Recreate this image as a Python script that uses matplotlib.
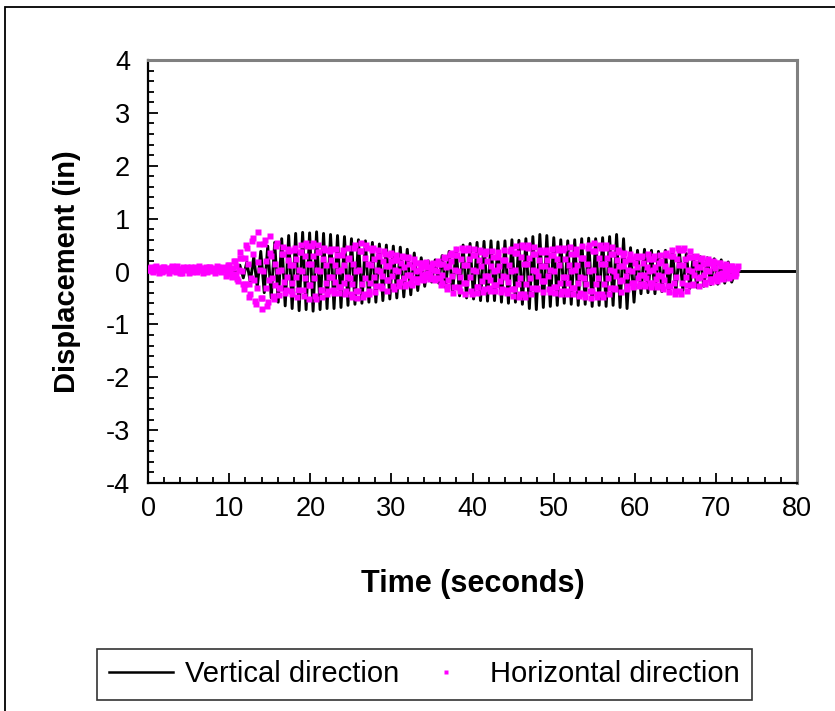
import numpy as np
import matplotlib
matplotlib.use("Agg")
import matplotlib.pyplot as plt
from matplotlib.lines import Line2D
from matplotlib.patches import Rectangle
from matplotlib.ticker import MultipleLocator

plt.rcParams['font.family'] = ['Liberation Sans', 'DejaVu Sans']
plt.rcParams['axes.unicode_minus'] = False

# ---- Vertical direction: successive positive / negative extremes (in) ----
vert_start = 9.6          # s, first excursion
vert_half_period = 0.43   # s between a peak and the following trough
vert_peaks = [0.04, 0.08, 0.12, 0.18, 0.28, 0.38, 0.48, 0.55, 0.62, 0.68,
              0.72, 0.74, 0.73, 0.75, 0.72, 0.70, 0.68, 0.66, 0.62, 0.60,
              0.58, 0.55, 0.52, 0.50, 0.48, 0.46, 0.42, 0.35, 0.26, 0.20,
              0.22, 0.30, 0.38, 0.44, 0.50, 0.53, 0.55, 0.57, 0.58, 0.56,
              0.58, 0.60, 0.59, 0.62, 0.66, 0.70, 0.68, 0.64, 0.60, 0.58,
              0.60, 0.62, 0.63, 0.62, 0.64, 0.66, 0.70, 0.62, 0.45, 0.40,
              0.42, 0.40, 0.38, 0.40, 0.42, 0.38, 0.34, 0.30, 0.28, 0.26,
              0.24, 0.22, 0.18]
vert_troughs = [-0.04, -0.08, -0.12, -0.20, -0.30, -0.40, -0.50, -0.58, -0.65, -0.70,
                -0.74, -0.72, -0.75, -0.72, -0.70, -0.70, -0.68, -0.64, -0.62, -0.60,
                -0.58, -0.58, -0.55, -0.52, -0.50, -0.48, -0.44, -0.36, -0.28, -0.20,
                -0.22, -0.30, -0.40, -0.46, -0.50, -0.52, -0.55, -0.56, -0.55, -0.58,
                -0.60, -0.58, -0.62, -0.70, -0.72, -0.68, -0.66, -0.64, -0.60, -0.62,
                -0.64, -0.62, -0.66, -0.64, -0.66, -0.64, -0.68, -0.70, -0.58, -0.42,
                -0.40, -0.42, -0.38, -0.40, -0.38, -0.36, -0.32, -0.30, -0.28, -0.25,
                -0.24, -0.22, -0.20]
vert_rest_before = [0.0, 9.2]    # s, at rest before shaking
vert_rest_after = [72.4, 80.0]   # s, at rest after shaking

# ---- Horizontal direction (in): readings every 0.1 s, stored as the
#      even-numbered samples (t = 0.0, 0.2, ...) and odd-numbered samples
#      (t = 0.1, 0.3, ...) ----
horiz_step = 0.1
horiz_even = [
    0.05, 0.02, 0.08, 0.00, 0.06, 0.10, 0.03, -0.02, 0.07, 0.01, 0.09, 0.04,
    0.02, -0.03, 0.06, 0.08, 0.04, 0.00, 0.10, 0.05, 0.03, -0.02, 0.07, 0.06,
    0.09, 0.02, 0.05, -0.01, 0.04, 0.08, 0.00, 0.06, 0.07, 0.03, -0.02, 0.05,
    0.02, 0.06, 0.09, 0.01, 0.05, -0.03, 0.04, 0.08, 0.06, 0.00, 0.03, 0.07,
    -0.08, 0.08, 0.12, -0.04, -0.09, 0.19, 0.11, -0.15, 0.02, 0.36, 0.01, -0.33,
    0.26, 0.45, -0.24, -0.43, 0.58, 0.34, -0.55, -0.31, 0.74, 0.02, -0.70, 0.01,
    0.60, -0.32, -0.57, 0.35, 0.29, -0.46, -0.26, 0.49, 0.01, -0.44, 0.02, 0.46,
    -0.19, -0.35, 0.22, 0.38, -0.37, -0.21, 0.40, 0.24, -0.48, 0.02, 0.51, 0.01,
    -0.46, 0.29, 0.49, -0.26, -0.26, 0.49, 0.29, -0.46, 0.02, 0.51, 0.01, -0.48,
    0.24, 0.40, -0.21, -0.37, 0.38, 0.22, -0.35, -0.19, 0.43, 0.01, -0.40, 0.02,
    0.40, -0.21, -0.37, 0.24, 0.26, -0.42, -0.23, 0.45, 0.01, -0.50, 0.02, 0.53,
    -0.23, -0.42, 0.26, 0.45, -0.37, -0.21, 0.40, 0.24, -0.38, 0.02, 0.41, 0.01,
    -0.31, 0.20, 0.34, -0.17, -0.16, 0.31, 0.19, -0.28, 0.02, 0.31, 0.01, -0.28,
    0.16, 0.27, -0.13, -0.24, 0.25, 0.15, -0.22, -0.12, 0.23, 0.01, -0.20, 0.02,
    0.17, -0.07, -0.14, 0.10, 0.09, -0.11, -0.06, 0.14, 0.02, -0.16, 0.01, 0.19,
    -0.12, -0.22, 0.15, 0.25, -0.28, -0.16, 0.31, 0.19, -0.40, 0.02, 0.43, 0.01,
    -0.37, 0.24, 0.40, -0.21, -0.21, 0.40, 0.24, -0.37, 0.02, 0.43, 0.01, -0.40,
    0.21, 0.36, -0.18, -0.33, 0.34, 0.20, -0.31, -0.17, 0.39, 0.01, -0.36, 0.02,
    0.36, -0.18, -0.33, 0.21, 0.22, -0.35, -0.19, 0.38, 0.01, -0.46, 0.02, 0.49,
    -0.24, -0.43, 0.27, 0.46, -0.42, -0.23, 0.45, 0.26, -0.43, 0.02, 0.46, 0.01,
    -0.33, 0.21, 0.36, -0.18, -0.18, 0.36, 0.21, -0.33, 0.02, 0.43, 0.01, -0.40,
    0.24, 0.40, -0.21, -0.37, 0.40, 0.24, -0.37, -0.21, 0.46, 0.01, -0.43, 0.02,
    0.43, -0.22, -0.40, 0.25, 0.26, -0.42, -0.23, 0.45, 0.01, -0.50, 0.02, 0.53,
    -0.23, -0.42, 0.26, 0.45, -0.42, -0.23, 0.45, 0.26, -0.43, 0.02, 0.46, 0.01,
    -0.33, 0.21, 0.36, -0.18, -0.16, 0.31, 0.19, -0.28, 0.02, 0.33, 0.01, -0.30,
    0.16, 0.27, -0.13, -0.24, 0.27, 0.16, -0.24, -0.13, 0.33, 0.01, -0.30, 0.02,
    0.29, -0.14, -0.26, 0.17, 0.19, -0.28, -0.16, 0.31, 0.01, -0.38, 0.02, 0.41,
    -0.21, -0.37, 0.24, 0.40, -0.37, -0.21, 0.40, 0.24, -0.36, 0.02, 0.39, 0.01,
    -0.24, 0.16, 0.27, -0.13, -0.11, 0.23, 0.14, -0.20, 0.02, 0.23, 0.01, -0.20,
    0.11, 0.18, -0.08, -0.15, 0.16, 0.10, -0.13, -0.07, 0.15, 0.01, -0.12, 0.02,
    0.10, -0.03, -0.07, 0.06,
]
horiz_odd = [
    0.03, 0.07, 0.01, 0.05, 0.09, 0.02, 0.06, 0.04, -0.01, 0.08, 0.05, 0.02,
    0.07, 0.04, 0.10, 0.01, 0.06, 0.08, 0.03, -0.02, 0.05, 0.09, 0.02, 0.04,
    0.06, -0.03, 0.08, 0.03, 0.07, 0.01, 0.05, 0.10, 0.02, 0.06, 0.04, 0.08,
    0.00, 0.09, 0.03, 0.05, 0.07, 0.02, 0.10, 0.04, 0.01, 0.06, 0.08, 0.03,
    -0.02, 0.13, 0.04, -0.11, 0.06, 0.20, -0.04, -0.18, 0.26, 0.26, -0.24, -0.24,
    0.50, 0.14, -0.48, -0.12, 0.64, -0.16, -0.62, 0.18, 0.52, -0.50, -0.50, 0.52,
    0.19, -0.65, -0.17, 0.67, -0.13, -0.52, 0.15, 0.54, -0.31, -0.31, 0.33, 0.33,
    -0.40, -0.10, 0.42, 0.12, -0.43, 0.13, 0.45, -0.11, -0.35, 0.37, 0.37, -0.35,
    -0.13, 0.54, 0.15, -0.52, 0.15, 0.54, -0.13, -0.52, 0.37, 0.37, -0.35, -0.35,
    0.45, 0.13, -0.43, -0.11, 0.42, -0.10, -0.40, 0.12, 0.31, -0.29, -0.29, 0.31,
    0.13, -0.43, -0.11, 0.45, -0.12, -0.48, 0.14, 0.50, -0.36, -0.36, 0.38, 0.38,
    -0.48, -0.12, 0.50, 0.14, -0.43, 0.13, 0.45, -0.11, -0.27, 0.29, 0.29, -0.27,
    -0.09, 0.38, 0.11, -0.36, 0.10, 0.35, -0.08, -0.33, 0.22, 0.22, -0.20, -0.20,
    0.30, 0.09, -0.28, -0.07, 0.28, -0.06, -0.26, 0.08, 0.17, -0.15, -0.15, 0.17,
    0.06, -0.16, -0.04, 0.18, -0.03, -0.14, 0.05, 0.16, -0.12, -0.12, 0.14, 0.14,
    -0.26, -0.06, 0.28, 0.08, -0.33, 0.10, 0.35, -0.08, -0.29, 0.31, 0.31, -0.29,
    -0.11, 0.45, 0.13, -0.43, 0.13, 0.45, -0.11, -0.43, 0.31, 0.31, -0.29, -0.29,
    0.40, 0.11, -0.38, -0.09, 0.38, -0.09, -0.36, 0.11, 0.28, -0.26, -0.26, 0.28,
    0.11, -0.38, -0.09, 0.40, -0.10, -0.40, 0.12, 0.42, -0.33, -0.33, 0.35, 0.35,
    -0.49, -0.13, 0.51, 0.15, -0.48, 0.14, 0.50, -0.12, -0.31, 0.33, 0.33, -0.31,
    -0.09, 0.40, 0.11, -0.38, 0.11, 0.40, -0.09, -0.38, 0.31, 0.31, -0.29, -0.29,
    0.45, 0.13, -0.43, -0.11, 0.45, -0.11, -0.43, 0.13, 0.33, -0.31, -0.31, 0.33,
    0.13, -0.46, -0.11, 0.48, -0.12, -0.48, 0.14, 0.50, -0.36, -0.36, 0.38, 0.38,
    -0.48, -0.12, 0.50, 0.14, -0.48, 0.14, 0.50, -0.12, -0.31, 0.33, 0.33, -0.31,
    -0.09, 0.40, 0.11, -0.38, 0.10, 0.35, -0.08, -0.33, 0.24, 0.24, -0.22, -0.22,
    0.30, 0.09, -0.28, -0.07, 0.30, -0.07, -0.28, 0.09, 0.24, -0.22, -0.22, 0.24,
    0.09, -0.30, -0.07, 0.32, -0.08, -0.33, 0.10, 0.35, -0.27, -0.27, 0.29, 0.29,
    -0.43, -0.11, 0.45, 0.13, -0.43, 0.13, 0.45, -0.11, -0.26, 0.28, 0.28, -0.26,
    -0.07, 0.30, 0.09, -0.28, 0.08, 0.25, -0.06, -0.23, 0.17, 0.17, -0.15, -0.15,
    0.20, 0.06, -0.18, -0.04, 0.17, -0.03, -0.15, 0.05, 0.11, -0.09, -0.09, 0.11,
    0.04, -0.09, -0.02, 0.11,
]

# ---- assemble series ----
n_cycles = len(vert_peaks)
vert_ext = np.empty(2 * n_cycles)
vert_ext[0::2] = vert_peaks
vert_ext[1::2] = vert_troughs
vert_ext_t = vert_start + vert_half_period * np.arange(2 * n_cycles)
vert_t = np.concatenate([vert_rest_before, vert_ext_t, vert_rest_after])
vert_y = np.concatenate([np.zeros(len(vert_rest_before)), vert_ext,
                         np.zeros(len(vert_rest_after))])

horiz_y = np.empty(len(horiz_even) + len(horiz_odd))
horiz_y[0::2] = horiz_even
horiz_y[1::2] = horiz_odd
horiz_t = horiz_step * np.arange(len(horiz_y))

# ---- figure ----
W, H = 835, 711
fig = plt.figure(figsize=(W / 100, H / 100), dpi=100)
ax = fig.add_axes([148 / W, (H - 483) / H, 649 / W, 423 / H])

ax.plot(vert_t, vert_y, color='black', lw=2.1, zorder=2,
        label='Vertical direction')
ax.plot(horiz_t, horiz_y, linestyle='none', marker='s', markersize=4.6,
        markerfacecolor='#FF00FF', markeredgecolor='none', zorder=3,
        label='Horizontal direction')

ax.set_xlim(0, 80)
ax.set_ylim(-4, 4)
ax.xaxis.set_major_locator(MultipleLocator(10))
ax.xaxis.set_minor_locator(MultipleLocator(2))
ax.yaxis.set_major_locator(MultipleLocator(1))
ax.yaxis.set_minor_locator(MultipleLocator(0.2))
ax.tick_params(which='both', direction='in', width=1.3, color='black',
               top=False, right=False)
ax.tick_params(which='major', length=7, labelsize=19.5)
ax.tick_params(which='minor', length=4)
ax.tick_params(axis='y', which='major', pad=13)
ax.tick_params(axis='x', which='major', pad=9)

for side in ('left', 'bottom'):
    ax.spines[side].set_color('black')
    ax.spines[side].set_linewidth(1.6)
for side in ('top', 'right'):
    ax.spines[side].set_color('#808080')
    ax.spines[side].set_linewidth(2.2)

ax.set_xlabel('Time (seconds)', fontsize=22, fontweight='bold', labelpad=34)
ax.set_ylabel('Displacement (in)', fontsize=21, fontweight='bold', labelpad=18)

# legend below the plot
handles = [Line2D([], [], color='black', lw=1.8),
           Line2D([], [], linestyle='none', marker='s', markersize=3,
                  markerfacecolor='#FF00FF', markeredgecolor='none')]
leg = fig.legend(handles, ['Vertical direction', 'Horizontal direction'],
                 loc='lower left', bbox_to_anchor=(97 / W, 11 / H),
                 ncol=2, fontsize=21, frameon=True, fancybox=False,
                 edgecolor='black', handlelength=2.2, handletextpad=0.42,
                 columnspacing=0.5, borderpad=0.4, borderaxespad=0)
leg.get_frame().set_linewidth(1.2)

# outer chart border
fig.patches.append(Rectangle((5 / W, -0.02), 1.05, (H - 7) / H + 0.02,
                             transform=fig.transFigure, fill=False,
                             edgecolor='black', lw=1.3))

fig.savefig('out.png', dpi=100)
